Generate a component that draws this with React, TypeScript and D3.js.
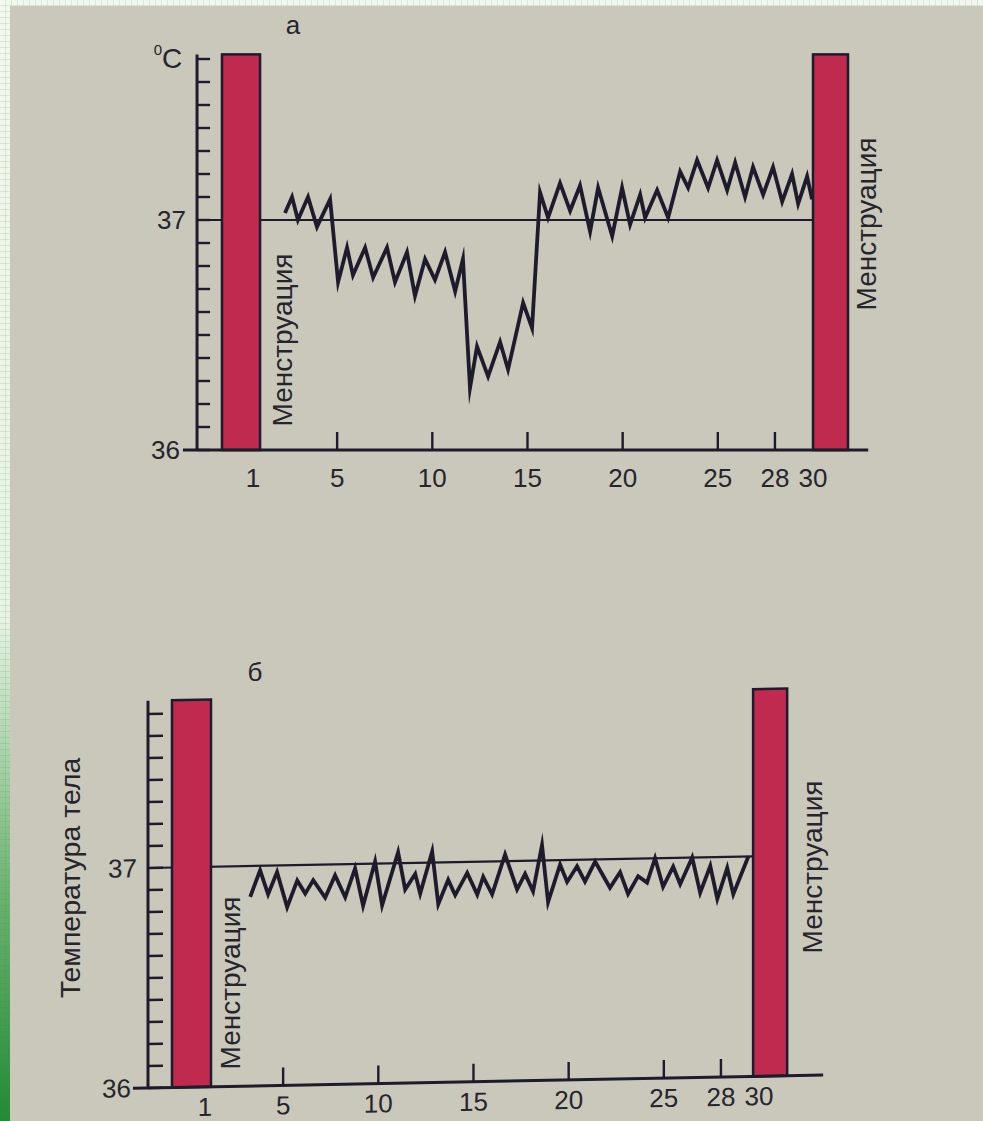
import * as d3 from "d3";
import * as React from "react";

// (day of cycle, basal temperature °C) — panel "а", biphasic cycle
const cycleA: [number, number][] = [
  [2.26, 37.03], [2.63, 37.1], [2.94, 37.0], [3.47, 37.1], [3.94, 36.97],
  [4.63, 37.09], [5.05, 36.73], [5.52, 36.88], [5.83, 36.76], [6.47, 36.88],
  [6.89, 36.75], [7.62, 36.88], [8.04, 36.73], [8.67, 36.86], [9.09, 36.67],
  [9.62, 36.83], [10.14, 36.74], [10.67, 36.86], [11.2, 36.69], [11.61, 36.83],
  [11.98, 36.27], [12.35, 36.45], [12.93, 36.32], [13.56, 36.47], [13.98, 36.35],
  [14.77, 36.64], [15.24, 36.53], [15.66, 37.12], [16.08, 37.01], [16.71, 37.16],
  [17.24, 37.04], [17.76, 37.15], [18.29, 36.95], [18.71, 37.14], [19.45, 36.93],
  [19.97, 37.14], [20.39, 36.98], [20.92, 37.11], [21.18, 37.01], [21.81, 37.13],
  [22.39, 37.01], [23.02, 37.21], [23.44, 37.14], [23.91, 37.26], [24.49, 37.14],
  [24.96, 37.26], [25.49, 37.13], [25.91, 37.25], [26.43, 37.1], [26.85, 37.23],
  [27.38, 37.11], [27.9, 37.23], [28.38, 37.08], [28.9, 37.2], [29.22, 37.07],
  [29.69, 37.19], [29.95, 37.09],
];

// panel "б", monophasic cycle
const cycleB: [number, number][] = [
  [3.27, 36.86], [3.79, 36.98], [4.21, 36.87], [4.68, 36.97], [5.21, 36.81],
  [5.74, 36.93], [6.16, 36.87], [6.58, 36.93], [7.21, 36.85], [7.73, 36.95],
  [8.26, 36.85], [8.78, 36.98], [9.2, 36.81], [9.83, 37.01], [10.2, 36.81],
  [11.04, 37.05], [11.41, 36.88], [11.94, 36.95], [12.2, 36.86], [12.83, 37.05],
  [13.15, 36.81], [13.67, 36.92], [14.04, 36.85], [14.67, 36.95], [15.2, 36.85],
  [15.51, 36.93], [15.98, 36.85], [16.66, 37.03], [17.29, 36.87], [17.71, 36.94],
  [18.13, 36.86], [18.6, 37.07], [18.92, 36.81], [19.55, 36.98], [19.92, 36.9],
  [20.44, 36.97], [20.86, 36.9], [21.39, 36.99], [22.17, 36.87], [22.7, 36.94],
  [23.12, 36.84], [23.65, 36.92], [24.12, 36.89], [24.54, 37.0], [24.96, 36.87],
  [25.49, 36.96], [25.86, 36.88], [26.49, 37.0], [26.91, 36.84], [27.44, 36.96],
  [27.81, 36.81], [28.33, 36.95], [28.65, 36.83], [29.44, 37.0],
];

// menstruation bars, [from day, to day]
const menstruationA: [number, number][] = [[-1.05, 0.95], [30.0, 31.84]];
const menstruationB: [number, number][] = [[-0.84, 1.21], [29.69, 31.48]];

const tickDays = [5, 10, 15, 20, 25, 28];
const labelDays = [1, 5, 10, 15, 20, 25, 28, 30];
const tempTicks = [
  36.0, 36.1, 36.2, 36.3, 36.4, 36.5, 36.6, 36.7, 36.8, 36.9,
  37.0, 37.1, 37.2, 37.3, 37.4, 37.5, 37.6, 37.7,
];
const tempLabels = [36, 37];
const barLabel = "Менструация";

const INK = "#1e1c2c";
const RED = "#c02a4f";
const PAPER = "#c9c8bb";
const TEXT = "#26252c";
const FONT = "'Liberation Sans', Arial, sans-serif";

type PanelProps = {
  data: [number, number][];
  bars: [number, number][];
  px1: number; // pixel of day 1
  px30: number; // pixel of day 30
  py36: number;
  py37: number;
  axisDay: number;
  xFrom: number;
  xTo: number;
  tMax: number;
  skew: number;
  firstDx: number;
  tickLen: number;
  labelDy: number;
};

function Panel(p: PanelProps) {
  const x = d3.scaleLinear().domain([1, 30]).range([p.px1, p.px30]);
  const y = d3.scaleLinear().domain([36, 37]).range([p.py36, p.py37]);
  const line = d3
    .line<[number, number]>()
    .x((d) => x(d[0]))
    .y((d) => y(d[1]));

  const ax = x(p.axisDay);
  const base = y(36);
  const top = y(p.tMax);
  const transform = `translate(${ax},${y(37)}) skewY(${p.skew}) translate(${-ax},${-y(37)})`;

  return (
    <g transform={transform}>
      {/* 37 °C reference */}
      <line x1={ax} x2={x(p.bars[1][0])} y1={y(37)} y2={y(37)} stroke={INK} strokeWidth={2.2} />

      {p.bars.map((b, i) => (
        <rect
          key={i}
          x={x(b[0])}
          y={top}
          width={x(b[1]) - x(b[0])}
          height={base - top}
          fill={RED}
          stroke={INK}
          strokeWidth={2.5}
        />
      ))}

      <path
        d={line(p.data) as string}
        fill="none"
        stroke={INK}
        strokeWidth={3.8}
        strokeLinejoin="miter"
        strokeMiterlimit={10}
      />

      {/* y axis */}
      {tempTicks.map((t) => (
        <line key={t} x1={ax} x2={ax + p.tickLen} y1={y(t)} y2={y(t)} stroke={INK} strokeWidth={2.4} />
      ))}
      <line x1={ax} x2={ax} y1={top} y2={base} stroke={INK} strokeWidth={3} />
      {tempLabels.map((t) => (
        <text
          key={t}
          x={t === 36 ? ax - 17 : ax - 11}
          y={y(t)}
          textAnchor="end"
          dominantBaseline="central"
          fontSize={26}
          fontFamily={FONT}
          fill={TEXT}
        >
          {t}
        </text>
      ))}

      {/* x axis */}
      <line x1={x(p.xFrom)} x2={x(p.xTo)} y1={base} y2={base} stroke={INK} strokeWidth={3} />
      {tickDays.map((d) => (
        <line key={d} x1={x(d)} x2={x(d)} y1={base} y2={base - 18} stroke={INK} strokeWidth={2.4} />
      ))}
      {labelDays.map((d, i) => (
        <text
          key={d}
          x={x(d) + (i === 0 ? p.firstDx : 0)}
          y={base + p.labelDy}
          textAnchor="middle"
          fontSize={26}
          fontFamily={FONT}
          fill={TEXT}
        >
          {d}
        </text>
      ))}
    </g>
  );
}

function Vertical({ x, y, children, size = 28 }: { x: number; y: number; children: string; size?: number }) {
  return (
    <text
      transform={`translate(${x},${y}) rotate(-90)`}
      textAnchor="middle"
      dominantBaseline="central"
      fontSize={size}
      fontFamily={FONT}
      fill={TEXT}
    >
      {children}
    </text>
  );
}

export default function App() {
  const W = 983;
  const H = 1121;
  return (
    <svg
      width={W}
      height={H}
      style={{ position: "absolute", left: 0, top: 0, display: "block" }}
    >
      <defs>
        <pattern id="grid" width={6} height={6} patternUnits="userSpaceOnUse">
          <rect width={6} height={6} fill="#f2f7ef" />
          <path d="M6 0V6M0 6H6" stroke="#a9d6a0" strokeWidth={0.8} />
        </pattern>
        <linearGradient id="edge" x1="0" y1="0" x2="0" y2="1">
          <stop offset="0" stopColor="#3c9a44" stopOpacity={0} />
          <stop offset="0.55" stopColor="#3c9a44" stopOpacity={0.05} />
          <stop offset="0.8" stopColor="#3c9a44" stopOpacity={0.75} />
          <stop offset="1" stopColor="#238a35" stopOpacity={1} />
        </linearGradient>
      </defs>

      <rect width={W} height={H} fill={PAPER} />
      <rect x={0} y={0} width={W} height={6} fill="url(#grid)" />
      <rect x={0} y={0} width={10} height={H} fill="url(#grid)" />
      <rect x={0} y={0} width={10} height={H} fill="url(#edge)" />

      {/* а */}
      <Panel
        data={cycleA}
        bars={menstruationA}
        px1={261}
        px30={813}
        py36={450}
        py37={220}
        axisDay={-2.36}
        xFrom={-3.1}
        xTo={32.9}
        tMax={37.72}
        skew={0}
        firstDx={-8}
        tickLen={13}
        labelDy={37}
      />
      <text x={293} y={25} textAnchor="middle" dominantBaseline="central" fontSize={26} fontFamily={FONT} fill={TEXT}>
        а
      </text>
      <text x={168} y={58} textAnchor="middle" dominantBaseline="central" fontSize={28} fontFamily={FONT} fill={TEXT}>
        <tspan fontSize={15} dy={-9}>0</tspan>
        <tspan dy={9}>C</tspan>
      </text>
      <Vertical x={282} y={340}>{barLabel}</Vertical>
      <Vertical x={866} y={224}>{barLabel}</Vertical>

      {/* б */}
      <Panel
        data={cycleB}
        bars={menstruationB}
        px1={207}
        px30={759}
        py36={1088}
        py37={868}
        axisDay={-2.1}
        xFrom={-2.89}
        xTo={33.37}
        tMax={37.76}
        skew={-1.1}
        firstDx={-2}
        tickLen={15}
        labelDy={29}
      />
      <text x={255} y={672} textAnchor="middle" dominantBaseline="central" fontSize={26} fontFamily={FONT} fill={TEXT}>
        б
      </text>
      <Vertical x={70} y={878} size={28.5}>Температура тела</Vertical>
      <Vertical x={230} y={983}>{barLabel}</Vertical>
      <Vertical x={812} y={867}>{barLabel}</Vertical>
    </svg>
  );
}
